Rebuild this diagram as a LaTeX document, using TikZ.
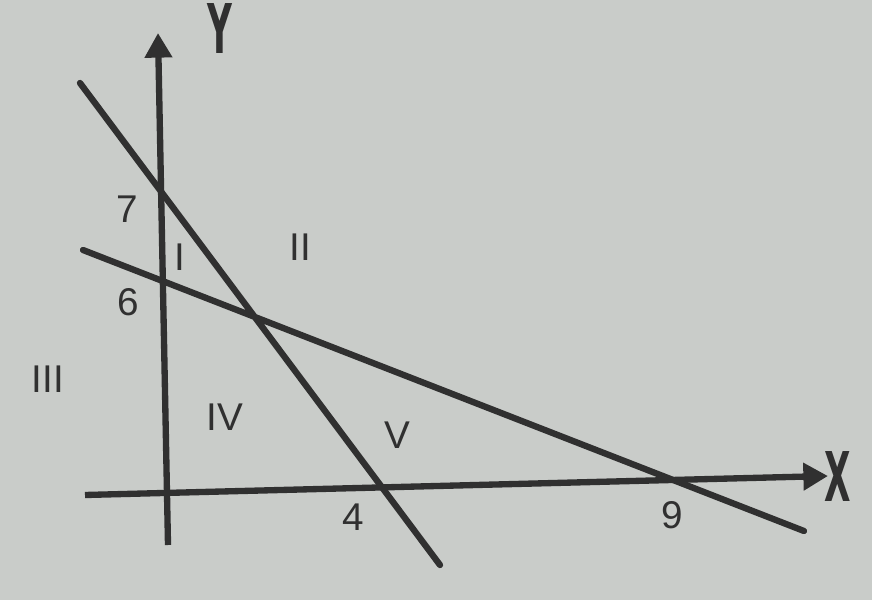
\documentclass[tikz,border=0pt]{standalone}
\usepackage{fontspec}
\setmainfont{Liberation Sans}
\newfontfamily\heavy{DejaVu Sans}
\usetikzlibrary{arrows.meta}
\definecolor{paper}{RGB}{201,204,201}
\definecolor{ink}{RGB}{48,48,48}
\newcommand{\narrow}[1]{\scalebox{0.5}[1]{#1}}
\begin{document}
\begin{tikzpicture}[x=0.01cm,y=-0.01cm,line width=1.8pt,
  lbl/.style={text=ink,inner sep=0pt,font=\fontsize{11}{13}\selectfont},
  axlbl/.style={text=ink,inner sep=0pt,font=\heavy\fontsize{19.5}{22}\selectfont\bfseries},
  axis/.style={draw=ink,-{Triangle[length=7pt,width=7.5pt]}}]
\fill[paper] (0,0) rectangle (872,600);
\useasboundingbox (0,0) rectangle (872,600);
% axes
\coordinate (y0) at (168,545); \coordinate (y1) at (158,33);
\coordinate (x0) at (85,495); \coordinate (x1) at (828,476);
\draw[axis] (y0) -- (y1);
\draw[axis] (x0) -- (x1);
\node[axlbl] (ylab) at (220,29) {\narrow{Y}};
\node[axlbl] (xlab) at (838,477) {\narrow{X}};
% the two lines
\coordinate (a0) at (80,83); \coordinate (a1) at (440,565);
\coordinate (b0) at (83,250); \coordinate (b1) at (804,531);
\draw[ink,line cap=round] (a0) -- (a1) (b0) -- (b1);
% intercepts
\node[lbl] (seven) at (127,209) {7};
\node[lbl] (six) at (128,302) {6};
\node[lbl] (four) at (353,517) {4};
\node[lbl] (nine) at (672,515) {9};
% regions
\node[lbl] (r1) at (180,257) {I};
\node[lbl] (r2) at (300,247) {II};
\node[lbl] (r3) at (48,379) {III};
\node[lbl] (r4) at (225,417) {IV};
\node[lbl] (r5) at (397,435) {V};
\end{tikzpicture}
\end{document}
